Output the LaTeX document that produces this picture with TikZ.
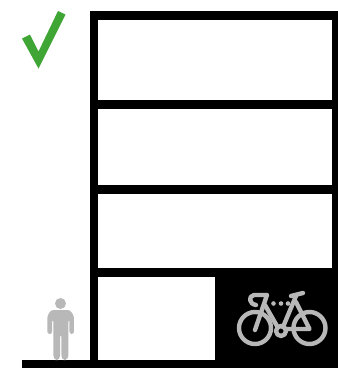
\documentclass[tikz,border=0pt]{standalone}
\usepackage{xcolor}
\usepackage{tikz}
\definecolor{tickgreen}{HTML}{3FA535}
\definecolor{figgrey}{HTML}{B8B8B8}
\tikzset{
  wall/.style={fill=black, draw=none},
  room/.style={fill=white, draw=none},
  tick/.style={fill=tickgreen, draw=none},
  person/.style={fill=figgrey, draw=none},
  bikeline/.style={draw=figgrey, line width=4.4pt, line cap=round, line join=round},
  bikedot/.style={fill=figgrey, draw=none}
}
\begin{document}
\begin{tikzpicture}[x=1pt, y=-1pt]
 \useasboundingbox (0,0) rectangle (338,368);
 % building
 \fill[wall] (90,11) rectangle (338,368);
 \fill[wall] (22,360) rectangle (90,368);
 \fill[room] (98.5,19.5) rectangle (332,100);
 \fill[room] (98.5,108.5) rectangle (332,185);
 \fill[room] (98.5,193.5) rectangle (332,268);
 \fill[room] (98.5,277) rectangle (215,360);
 % tick
 \fill[tick] (22,38.5) -- (30,34.5) -- (38.5,51.5) -- (58,11) -- (65.5,14.5) -- (38.5,68.5) -- cycle;
 % person
 \fill[person] (60.5,303.5) circle (5.5);
 \fill[person, rounded corners=2.5pt] (47.3,334) -- (47.3,316) -- (51,310) -- (70,310) -- (74,316) -- (74,334) -- (69.5,334) -- (69.5,319) -- (68.5,319) -- (68.5,357) -- (66,360) -- (63.5,360) -- (61.3,357) -- (61.3,334) -- (60.2,334) -- (60.2,357) -- (58,360) -- (55.5,360) -- (53.3,357) -- (53.3,319) -- (52.2,319) -- (52.2,334) -- cycle;
 % bike
 \draw[bikeline] (255,328) circle (16);
 \draw[bikeline] (309.5,328) circle (16);
 \draw[bikeline] (281,331) circle (5);
 \draw[bikeline] (256,305) .. controls (249,304) and (248,296) .. (254,295) -- (267,295) -- (255,330);
 \draw[bikeline] (265,305) -- (277,326);
 \draw[bikeline] (296,296) -- (283,327);
 \draw[bikeline] (291,296) -- (303,293);
 \draw[bikeline] (296,302) -- (309.5,329) -- (286,329);
 \fill[bikedot] (273.5,303.5) circle (2.3);
 \fill[bikedot] (281,303.5) circle (2.3);
 \fill[bikedot] (288,303.5) circle (2.3);
\end{tikzpicture}
\end{document}
